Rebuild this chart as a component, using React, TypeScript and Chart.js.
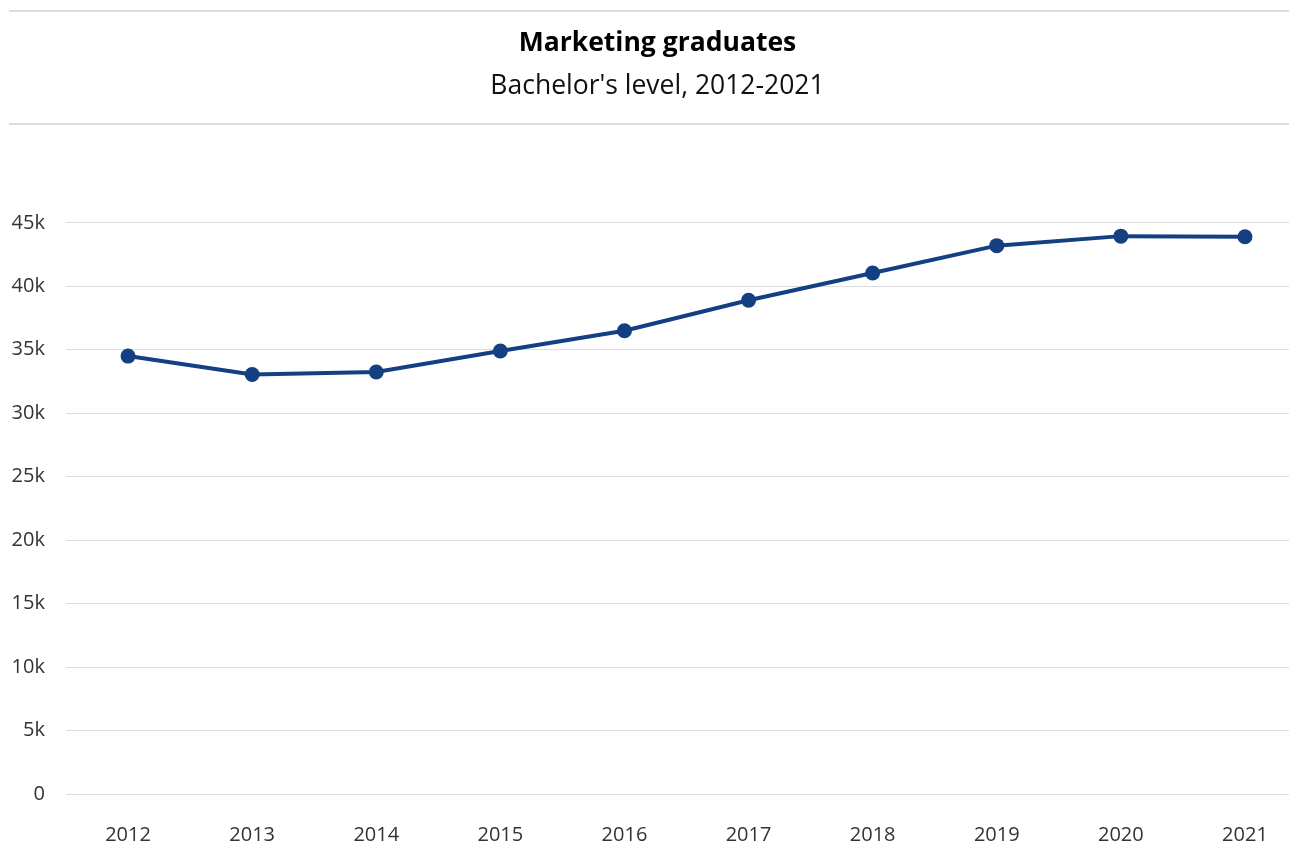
import React, { useEffect, useRef } from "react";
import { Chart, registerables } from "chart.js";

Chart.register(...registerables);

const years = ["2012", "2013", "2014", "2015", "2016", "2017", "2018", "2019", "2020", "2021"];
const graduates = [34500, 33050, 33250, 34900, 36500, 38900, 41050, 43200, 43950, 43900];
const titleText = "Marketing graduates";
const subtitleText = "Bachelor's level, 2012-2021";

const rulesPlugin = {
  id: "rules",
  afterDraw(chart: any) {
    const ctx = chart.ctx;
    ctx.save();
    ctx.strokeStyle = "#dddddd";
    ctx.lineWidth = 2;
    [3, 116].forEach((y) => {
      ctx.beginPath();
      ctx.moveTo(1, y);
      ctx.lineTo(chart.width, y);
      ctx.stroke();
    });
    ctx.restore();
  },
};

export default function App() {
  const ref = useRef<HTMLCanvasElement | null>(null);
  useEffect(() => {
    document.documentElement.style.overflow = "hidden";
    document.body.style.overflow = "hidden";
    if (!ref.current) return;
    const chart = new Chart(ref.current, {
      type: "line",
      data: {
        labels: years,
        datasets: [
          {
            data: graduates,
            borderColor: "#143f82",
            backgroundColor: "#143f82",
            borderWidth: 4,
            pointRadius: 7.5,
            pointHoverRadius: 7.5,
            pointBackgroundColor: "#143f82",
            pointBorderWidth: 0,
            tension: 0,
          },
        ],
      },
      options: {
        responsive: false,
        animation: false,
        layout: { autoPadding: false, padding: { left: 0, right: 1, top: 0, bottom: 1 } },
        plugins: {
          legend: { display: false },
          tooltip: { enabled: false },
          title: {
            display: true,
            text: titleText,
            color: "#000",
            font: { family: "'Open Sans'", size: 26.5, weight: "bold" },
            padding: { top: 20, bottom: 0 },
          },
          subtitle: {
            display: true,
            text: subtitleText,
            color: "#111",
            font: { family: "'Open Sans'", size: 26.5, weight: "normal" },
            padding: { top: 11.2, bottom: 120 },
          },
        },
        scales: {
          x: {
            offset: true,
            afterFit: (scale: any) => {
              scale.height = 53;
            },
            grid: { display: false, drawTicks: false },
            border: { display: false },
            ticks: {
              color: "#333",
              padding: 29,
              font: { family: "'Open Sans'", size: 20 },
              maxRotation: 0,
            },
          },
          y: {
            min: 0,
            max: 45000,
            afterFit: (scale: any) => {
              scale.width = 58;
            },
            grid: { color: "#dddddd", lineWidth: 1, drawTicks: false },
            border: { display: false },
            ticks: {
              stepSize: 5000,
              color: "#333",
              padding: 21,
              font: { family: "'Open Sans'", size: 20 },
              callback: (v: any) => (v === 0 ? "0" : `${v / 1000}k`),
            },
          },
        },
      },
      plugins: [rulesPlugin],
    });
    return () => chart.destroy();
  }, []);
  return <canvas ref={ref} width={1300} height={840} style={{ display: "block" }} />;
}
